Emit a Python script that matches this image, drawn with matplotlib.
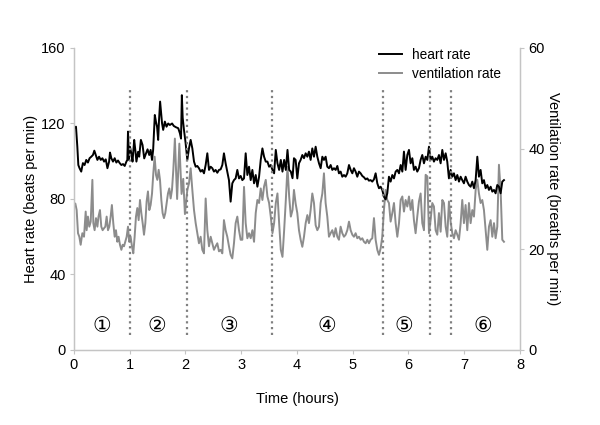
import matplotlib
matplotlib.use("Agg")
import matplotlib.pyplot as plt

# ---- data ----
hr_t = [0.000, 0.036, 0.060, 0.078, 0.100, 0.130, 0.160, 0.190, 0.220, 0.250,
        0.280, 0.310, 0.340, 0.365, 0.390, 0.420, 0.450, 0.480, 0.510, 0.540,
        0.570, 0.600, 0.630, 0.646, 0.670, 0.700, 0.730, 0.760, 0.790, 0.820,
        0.850, 0.880, 0.910, 0.940, 0.957, 0.969, 0.987, 1.004, 1.030, 1.050,
        1.080, 1.100, 1.120, 1.150, 1.170, 1.200, 1.230, 1.260, 1.290, 1.320,
        1.350, 1.375, 1.400, 1.420, 1.450, 1.470, 1.490, 1.510, 1.525, 1.545,
        1.580, 1.600, 1.630, 1.660, 1.690, 1.720, 1.760, 1.790, 1.830, 1.870,
        1.900, 1.920, 1.935, 1.950, 1.973, 2.003, 2.033, 2.063, 2.093, 2.123,
        2.153, 2.183, 2.212, 2.242, 2.272, 2.302, 2.332, 2.362, 2.392, 2.422,
        2.452, 2.482, 2.511, 2.541, 2.571, 2.601, 2.631, 2.661, 2.690, 2.720,
        2.750, 2.780, 2.810, 2.840, 2.870, 2.900, 2.930, 2.960, 2.990, 3.020,
        3.050, 3.080, 3.110, 3.140, 3.170, 3.200, 3.230, 3.260, 3.290, 3.320,
        3.350, 3.380, 3.410, 3.440, 3.470, 3.500, 3.530, 3.560, 3.590, 3.620,
        3.650, 3.680, 3.710, 3.740, 3.770, 3.800, 3.830, 3.860, 3.890, 3.920,
        3.946, 3.976, 4.006, 4.036, 4.066, 4.096, 4.126, 4.156, 4.186, 4.215,
        4.245, 4.275, 4.305, 4.335, 4.365, 4.395, 4.425, 4.455, 4.484, 4.514,
        4.544, 4.574, 4.604, 4.634, 4.664, 4.694, 4.724, 4.753, 4.783, 4.813,
        4.843, 4.873, 4.903, 4.933, 4.963, 4.993, 5.022, 5.052, 5.082, 5.112,
        5.142, 5.172, 5.202, 5.232, 5.262, 5.291, 5.321, 5.351, 5.381, 5.411,
        5.441, 5.471, 5.501, 5.530, 5.560, 5.590, 5.620, 5.650, 5.680, 5.710,
        5.740, 5.770, 5.800, 5.830, 5.860, 5.890, 5.919, 5.949, 5.979, 6.009,
        6.039, 6.069, 6.098, 6.128, 6.158, 6.188, 6.218, 6.248, 6.278, 6.308,
        6.338, 6.368, 6.397, 6.427, 6.457, 6.487, 6.517, 6.547, 6.577, 6.607,
        6.637, 6.667, 6.696, 6.726, 6.756, 6.786, 6.816, 6.846, 6.876, 6.906,
        6.936, 6.965, 6.995, 7.025, 7.055, 7.085, 7.115, 7.145, 7.175, 7.205,
        7.235, 7.264, 7.294, 7.324, 7.354, 7.384, 7.414, 7.444, 7.474, 7.504,
        7.534, 7.563, 7.593, 7.623, 7.653, 7.683, 7.713]
hr = [117.4, 118.3, 107.7, 98.0, 96.3, 94.5, 99.0, 98.0, 100.7, 99.3,
      101.6, 102.4, 103.3, 105.6, 103.3, 100.7, 102.4, 100.7, 101.6, 99.8,
      101.0, 96.3, 99.8, 104.6, 101.6, 99.8, 101.6, 99.3, 100.4, 99.0,
      98.0, 98.5, 97.5, 99.8, 100.7, 115.7, 100.7, 107.7, 104.0, 99.8,
      111.3, 106.0, 99.8, 105.0, 102.4, 111.3, 108.6, 101.5, 104.0, 106.3,
      103.3, 106.0, 100.7, 106.0, 124.5, 121.0, 118.3, 111.3, 121.5, 131.6,
      120.0, 116.6, 121.0, 118.3, 120.0, 119.2, 120.0, 118.7, 118.0, 117.5,
      114.8, 112.0, 135.0, 123.0, 116.6, 109.5, 100.7, 106.8, 111.3, 106.8,
      99.8, 97.1, 97.5, 96.3, 94.5, 95.4, 93.6, 98.0, 104.2, 95.4,
      97.1, 96.3, 94.5, 95.4, 93.9, 95.4, 95.7, 98.0, 104.2, 98.9,
      94.5, 90.0, 78.6, 88.3, 90.0, 90.9, 95.4, 90.9, 92.2, 90.0,
      90.9, 104.2, 92.7, 97.1, 90.0, 95.4, 88.3, 92.7, 86.5, 91.8,
      100.7, 106.8, 102.4, 99.8, 99.8, 97.1, 98.0, 95.4, 93.6, 106.0,
      98.9, 95.4, 100.7, 94.5, 100.7, 95.4, 106.0, 95.4, 94.5, 91.0,
      101.6, 100.7, 90.9, 98.9, 100.7, 103.3, 101.6, 104.2, 102.4, 105.1,
      100.7, 106.8, 102.4, 107.7, 102.4, 98.9, 96.3, 102.4, 100.7, 102.4,
      97.1, 96.3, 98.0, 95.4, 96.3, 95.4, 97.5, 93.6, 94.5, 91.8,
      92.7, 91.8, 93.6, 98.0, 95.4, 93.6, 96.3, 94.5, 91.8, 94.5,
      93.6, 92.2, 91.5, 90.4, 90.9, 89.7, 90.0, 89.2, 90.4, 93.6,
      88.3, 85.7, 86.5, 84.8, 81.2, 79.8, 83.0, 91.8, 89.2, 92.7,
      90.9, 94.5, 95.4, 93.6, 98.0, 94.5, 105.1, 95.4, 103.3, 106.0,
      98.9, 101.6, 95.4, 97.1, 94.5, 96.3, 100.7, 103.3, 98.9, 102.4,
      100.7, 107.7, 100.7, 102.4, 99.8, 101.6, 100.7, 103.3, 98.9, 106.0,
      100.7, 104.2, 99.8, 90.9, 95.4, 91.8, 93.6, 90.0, 92.7, 89.2,
      91.8, 90.0, 88.3, 91.8, 89.2, 87.4, 86.5, 89.2, 85.7, 90.0,
      102.4, 91.8, 95.4, 88.3, 90.0, 85.7, 87.4, 84.8, 86.5, 83.9,
      84.8, 83.0, 87.4, 86.5, 83.0, 89.2, 90.0]

vr_t = [0.000, 0.024, 0.048, 0.072, 0.096, 0.120, 0.150, 0.180, 0.210, 0.227,
        0.250, 0.275, 0.300, 0.330, 0.347, 0.370, 0.395, 0.420, 0.440, 0.466,
        0.490, 0.514, 0.540, 0.562, 0.586, 0.610, 0.634, 0.658, 0.680, 0.705,
        0.730, 0.753, 0.777, 0.800, 0.825, 0.850, 0.873, 0.897, 0.920, 0.945,
        0.969, 0.990, 1.016, 1.040, 1.064, 1.088, 1.112, 1.136, 1.160, 1.184,
        1.208, 1.232, 1.256, 1.280, 1.303, 1.327, 1.351, 1.375, 1.400, 1.423,
        1.447, 1.471, 1.495, 1.519, 1.543, 1.567, 1.590, 1.614, 1.638, 1.662,
        1.686, 1.710, 1.734, 1.758, 1.782, 1.810, 1.850, 1.890, 1.930, 1.960,
        1.990, 2.033, 2.063, 2.093, 2.123, 2.153, 2.183, 2.212, 2.242, 2.272,
        2.302, 2.332, 2.362, 2.392, 2.422, 2.452, 2.482, 2.511, 2.541, 2.571,
        2.601, 2.631, 2.661, 2.690, 2.720, 2.750, 2.780, 2.810, 2.840, 2.870,
        2.900, 2.930, 2.960, 2.990, 3.020, 3.050, 3.080, 3.110, 3.140, 3.170,
        3.200, 3.230, 3.260, 3.290, 3.320, 3.350, 3.380, 3.410, 3.440, 3.470,
        3.500, 3.530, 3.560, 3.590, 3.620, 3.650, 3.680, 3.710, 3.740, 3.770,
        3.800, 3.830, 3.860, 3.890, 3.920, 3.946, 3.976, 4.006, 4.036, 4.066,
        4.096, 4.126, 4.156, 4.186, 4.215, 4.245, 4.275, 4.305, 4.335, 4.365,
        4.395, 4.425, 4.455, 4.484, 4.514, 4.544, 4.574, 4.604, 4.634, 4.664,
        4.694, 4.724, 4.753, 4.783, 4.813, 4.843, 4.873, 4.903, 4.933, 4.963,
        4.993, 5.022, 5.052, 5.082, 5.112, 5.142, 5.172, 5.202, 5.232, 5.262,
        5.291, 5.321, 5.351, 5.381, 5.411, 5.441, 5.471, 5.501, 5.530, 5.560,
        5.590, 5.620, 5.650, 5.680, 5.710, 5.740, 5.770, 5.800, 5.830, 5.860,
        5.890, 5.919, 5.949, 5.979, 6.009, 6.039, 6.069, 6.098, 6.128, 6.158,
        6.188, 6.218, 6.248, 6.278, 6.308, 6.338, 6.368, 6.397, 6.427, 6.457,
        6.487, 6.517, 6.547, 6.577, 6.607, 6.637, 6.667, 6.696, 6.726, 6.756,
        6.786, 6.816, 6.846, 6.876, 6.906, 6.936, 6.965, 6.995, 7.025, 7.055,
        7.085, 7.115, 7.145, 7.175, 7.205, 7.235, 7.264, 7.294, 7.324, 7.354,
        7.384, 7.414, 7.444, 7.474, 7.504, 7.534, 7.563, 7.593, 7.623, 7.653,
        7.683, 7.713]
vr = [28.5, 29.1, 27.8, 23.2, 22.5, 20.9, 23.2, 22.5, 27.5, 23.8,
      26.5, 24.5, 25.5, 33.8, 25.2, 23.8, 26.2, 24.5, 26.5, 27.8,
      24.5, 23.8, 24.2, 24.5, 26.5, 23.8, 24.5, 26.5, 28.8, 25.2,
      22.5, 23.8, 21.5, 22.5, 20.9, 19.9, 20.9, 20.6, 21.5, 22.5,
      24.5, 21.5, 22.5, 20.6, 19.2, 22.5, 26.5, 28.2, 25.8, 29.8,
      27.2, 25.2, 22.9, 25.2, 29.5, 31.5, 27.8, 28.8, 31.1, 35.1,
      38.4, 34.8, 33.8, 35.8, 33.8, 29.8, 27.2, 26.2, 27.2, 29.2,
      31.1, 32.1, 30.1, 31.8, 35.8, 42.0, 30.0, 41.0, 31.0, 34.0,
      27.0, 31.8, 33.1, 36.1, 31.8, 27.8, 25.2, 23.2, 21.2, 22.5,
      19.9, 19.2, 30.1, 23.8, 20.6, 22.5, 21.2, 19.9, 20.6, 21.2,
      19.6, 19.9, 19.2, 25.8, 23.8, 22.5, 20.6, 18.9, 18.2, 21.2,
      25.2, 26.5, 23.8, 21.9, 21.9, 32.4, 25.2, 22.2, 23.2, 22.2,
      23.8, 21.5, 27.2, 29.8, 29.2, 32.1, 29.8, 32.5, 33.8, 30.5,
      29.2, 26.5, 23.2, 25.2, 29.2, 31.1, 25.2, 19.9, 18.5, 23.8,
      29.8, 36.4, 30.5, 26.5, 27.8, 31.8, 29.1, 27.2, 23.8, 21.9,
      20.5, 22.5, 25.2, 26.8, 25.2, 27.8, 31.1, 29.2, 24.8, 23.8,
      24.5, 29.2, 31.1, 35.1, 29.2, 26.5, 22.5, 23.2, 23.8, 22.5,
      24.2, 22.5, 21.9, 24.5, 23.2, 22.5, 22.9, 23.8, 25.5, 23.8,
      22.9, 22.5, 23.2, 22.2, 22.5, 21.9, 22.2, 21.5, 21.2, 21.9,
      21.2, 21.9, 22.2, 26.2, 21.9, 19.9, 18.9, 20.2, 22.5, 27.8,
      31.8, 29.8, 29.2, 25.5, 27.2, 29.2, 25.2, 22.5, 25.2, 29.8,
      30.5, 27.5, 29.8, 28.5, 30.5, 27.8, 29.8, 25.8, 23.2, 26.5,
      29.5, 31.1, 25.2, 23.8, 34.8, 34.5, 23.2, 25.8, 29.2, 28.5,
      23.8, 22.9, 27.2, 23.5, 29.8, 29.2, 24.5, 22.5, 29.5, 25.5,
      23.2, 22.2, 23.8, 22.9, 21.9, 25.2, 29.8, 25.2, 28.8, 23.8,
      29.2, 25.2, 27.8, 26.5, 31.8, 33.8, 31.1, 29.2, 29.8, 27.8,
      23.8, 19.9, 24.5, 25.8, 22.5, 25.2, 22.2, 24.5, 36.8, 31.8,
      21.9, 21.5]

# phase boundaries (hours) and circled phase labels
phase_bounds = [1.0, 2.03, 3.55, 5.55, 6.38, 6.76]
phase_x = [0.5, 1.48, 2.78, 4.53, 5.92, 7.33]
phase_labels = ['\u2460', '\u2461', '\u2462', '\u2463', '\u2464', '\u2465']

plt.rcParams['font.family'] = ['Liberation Sans', 'DejaVu Sans']
plt.rcParams['font.size'] = 10.5

fig = plt.figure(figsize=(6, 4.25), dpi=100)
ax = fig.add_axes([0.1233, 0.1765, 0.7433, 0.7106])
ax2 = ax.twinx()

spine_col = '#c4c4c4'
l2, = ax2.plot(vr_t, vr, color='#8c8c8c', lw=1.4, label='ventilation rate')
l1, = ax.plot(hr_t, hr, color='black', lw=1.4, label='heart rate')
ax.vlines(phase_bounds, 8, 139, colors='#808080', linestyles=(0, (1, 1.6)), lw=1.6)
for px, lab in zip(phase_x, phase_labels):
    ax.text(px, 12.7, lab, ha='center', va='center', fontsize=15,
            family=['DejaVu Sans'])

ax.set_zorder(ax2.get_zorder() + 1)
ax.patch.set_visible(False)

ax.set_xlim(0, 8)
ax.set_ylim(0, 160)
ax2.set_ylim(0, 60)
ax.set_xticks(range(0, 9))
ax.set_yticks([0, 40, 80, 120, 160])
ax2.set_yticks([0, 20, 40, 60])

for a in (ax, ax2):
    a.spines['top'].set_visible(False)
    for s in ('left', 'right', 'bottom'):
        a.spines[s].set_color(spine_col)
        a.spines[s].set_linewidth(0.9)
    a.tick_params(direction='out', length=3, width=0.8, color=spine_col,
                  labelsize=10.5, pad=3)

ax.set_xlabel('Time (hours)', fontsize=10.5, labelpad=14)
ax.set_ylabel('Heart rate (beats per min)', fontsize=10.5, labelpad=2)
ax2.set_ylabel('Ventilation rate (breaths per min)', fontsize=10.5,
               rotation=270, va='bottom', labelpad=1)

ax.legend(handles=[l1, l2], loc='upper right', bbox_to_anchor=(0.957, 1.0),
          frameon=False, borderpad=0, borderaxespad=0, handlelength=1.7,
          handletextpad=0.7, labelspacing=0.35, fontsize=9.8)

fig.savefig('out.png', dpi=100)
